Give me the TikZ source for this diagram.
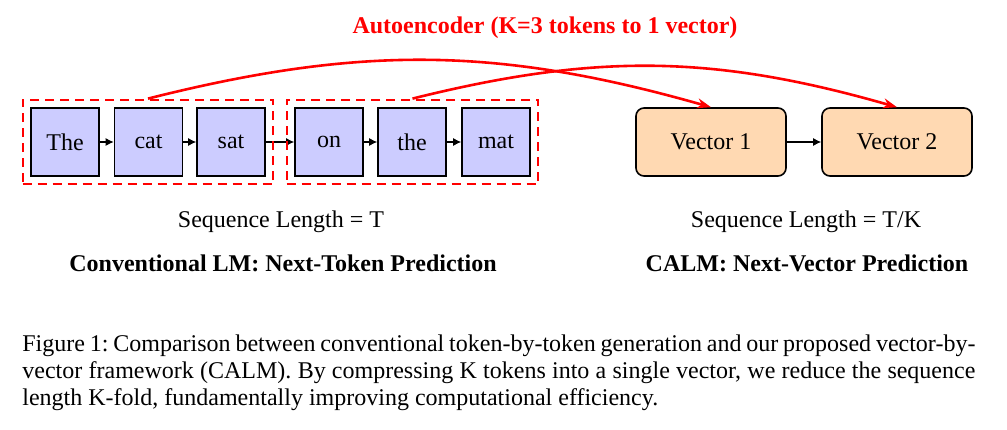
\documentclass[tikz,border=0pt]{standalone}
\usepackage{fontspec}
\setmainfont{Liberation Serif}
\usetikzlibrary{arrows.meta,positioning,fit}
\frenchspacing

\tikzset{
  tok/.style={draw,thick,fill=blue!20,minimum size=34pt,inner sep=0pt},
  vec/.style={draw,thick,fill=orange!30,rounded corners=4pt,minimum width=75pt,minimum height=34pt},
  grp/.style={draw=red,line width=1pt,dash pattern=on 4.5pt off 3pt,inner sep=3.8pt},
  nxt/.style={-{Latex[length=4pt,width=4pt]},semithick},
  enc/.style={-{Stealth[length=7pt,width=5pt]},red,line width=1.3pt},
}

\begin{document}
\begin{tikzpicture}[x=0.5pt,y=0.5pt,font=\fontsize{12}{13.5}\selectfont]
  \useasboundingbox (0,0) rectangle (1007,-429);
  % tokens
  \foreach \w/\x [count=\i] in {The/65,cat/148.5,sat/231,on/329,the/412,mat/496}
    {\node[tok] (t\i) at (\x,-142) {\w};}
  \foreach \i/\j in {1/2,2/3,3/4,4/5,5/6}{\draw[nxt] (t\i) -- (t\j);}
  \node[grp,fit=(t1)(t3)] (g1) {};
  \node[grp,fit=(t4)(t6)] (g2) {};
  % vectors
  \node[vec] (v1) at (711,-142) {Vector 1};
  \node[vec] (v2) at (897,-142) {Vector 2};
  \draw[nxt] (v1) -- (v2);
  % autoencoder
  \node[text=red,font=\fontsize{12}{13.5}\selectfont\bfseries] (ae) at (545,-28)
    {Autoencoder (K=3 tokens to 1 vector)};
  \draw[enc] (g1.north) to[bend left=15] (v1.north);
  \draw[enc] (g2.north) to[bend left=15] (v2.north);
  % labels
  \node (len1) at (281,-222) {Sequence Length = T};
  \node (len2) at (806,-222) {Sequence Length = T/K};
  \node[font=\fontsize{12}{13.5}\selectfont\bfseries] (lm1) at (283,-263) {Conventional LM: Next-Token Prediction};
  \node[font=\fontsize{12}{13.5}\selectfont\bfseries] (lm2) at (807,-263) {CALM: Next-Vector Prediction};
  % caption
  \node[anchor=north west,inner sep=0pt,text width=476.5pt,align=justify,
        font=\fontsize{12}{13.6}\selectfont] (cap) at (22,-334)
    {Figure 1: Comparison between conventional token-by-token generation and our proposed vector-by-\linebreak
     vector framework (CALM). By compressing K tokens into a single vector, we reduce the sequence\linebreak
     length K-fold, fundamentally improving computational efficiency.};
\end{tikzpicture}
\end{document}
